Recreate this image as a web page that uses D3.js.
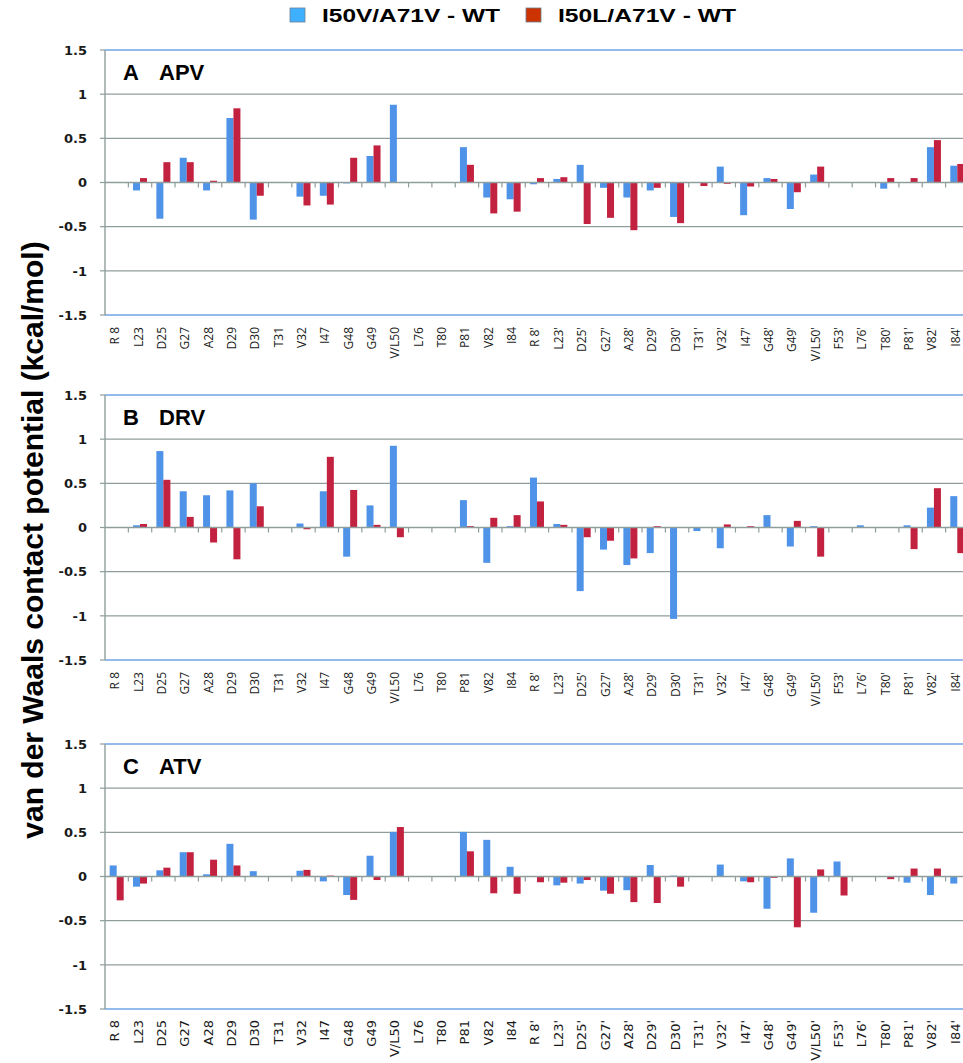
<!DOCTYPE html>
<html>
<head>
<meta charset="utf-8">
<script src="https://cdn.jsdelivr.net/npm/d3@7"></script>
<style>
  body { margin: 0; background: #fff; }
  svg { display: block; }
</style>
</head>
<body>
<div id="chart"></div>
<script>
// Residues along the x axis (same for all three panels)
const residues = ["R 8", "L23", "D25", "G27", "A28", "D29", "D30", "T31", "V32", "I47", "G48", "G49", "V/L50", "L76", "T80", "P81", "V82", "I84",
  "R 8'", "L23'", "D25'", "G27'", "A28'", "D29'", "D30'", "T31'", "V32'", "I47'", "G48'", "G49'", "V/L50'", "F53'", "L76'", "T80'", "P81'", "V82'", "I84'"];

const seriesNames = ["I50V/A71V - WT", "I50L/A71V - WT"];

// A  APV
const apvV = [0, -0.09, -0.41, 0.28, -0.09, 0.73, -0.42, 0, -0.16, -0.15, -0.01, 0.30, 0.88, 0, 0, 0.40, -0.17, -0.19,
  -0.02, 0.04, 0.20, -0.06, -0.17, -0.09, -0.39, 0, 0.18, -0.37, 0.05, -0.30, 0.09, 0, 0, -0.07, 0, 0.40, 0.19];
const apvL = [0, 0.05, 0.23, 0.23, 0.02, 0.84, -0.15, 0, -0.26, -0.25, 0.28, 0.42, 0, 0, 0, 0.20, -0.35, -0.33,
  0.05, 0.06, -0.47, -0.40, -0.54, -0.06, -0.46, -0.04, -0.015, -0.045, 0.04, -0.11, 0.18, 0, 0, 0.05, 0.05, 0.48, 0.21];

// B  DRV
const drvV = [0, 0.025, 0.865, 0.41, 0.365, 0.42, 0.50, 0, 0.045, 0.41, -0.33, 0.25, 0.925, 0, 0, 0.31, -0.40, 0.015,
  0.565, 0.04, -0.72, -0.25, -0.425, -0.29, -1.035, -0.04, -0.235, 0, 0.14, -0.215, 0.015, 0, 0.025, 0, 0.025, 0.225, 0.355];
const drvL = [0, 0.04, 0.54, 0.12, -0.17, -0.36, 0.24, 0, -0.02, 0.80, 0.425, 0.03, -0.11, 0, 0, 0.015, 0.11, 0.14,
  0.295, 0.03, -0.11, -0.15, -0.35, 0.015, 0, 0, 0.035, 0.015, 0, 0.075, -0.33, 0, 0, 0, -0.245, 0.445, -0.29];

// C  ATV
const atvV = [0.125, -0.115, 0.07, 0.275, 0.025, 0.37, 0.06, 0, 0.065, -0.055, -0.21, 0.235, 0.505, 0, 0, 0.505, 0.415, 0.11,
  0, -0.10, -0.08, -0.16, -0.155, 0.13, 0.01, 0, 0.135, -0.055, -0.365, 0.205, -0.41, 0.17, 0, 0, -0.07, -0.21, -0.08];
const atvL = [-0.27, -0.08, 0.10, 0.275, 0.19, 0.125, 0, 0, 0.075, 0.01, -0.265, -0.04, 0.56, 0, 0, 0.285, -0.19, -0.195,
  -0.065, -0.07, -0.04, -0.195, -0.29, -0.30, -0.115, 0, 0, -0.065, -0.015, -0.575, 0.08, -0.215, 0, -0.03, 0.09, 0.09, 0];

const yTicks = [-1.5, -1, -0.5, 0, 0.5, 1, 1.5];

const panels = [
  { letter: "A", drug: "APV", v: apvV, l: apvL, top: 50 },
  { letter: "B", drug: "DRV", v: drvV, l: drvL, top: 395 },
  { letter: "C", drug: "ATV", v: atvV, l: atvL, top: 744 }
];

const width = 963, height = 1063;
const plotLeft = 105, step = 23.35;
const plotRight = plotLeft + step * residues.length; // runs a little past the window edge
const panelH = 265;
const colors = ["#4f93e8", "#c2223f"];

const svg = d3.select("#chart").append("svg")
  .attr("width", width)
  .attr("height", height)
  .style("background", "#fff");

const x0 = d3.scaleBand()
  .domain(residues)
  .range([plotLeft, plotRight])
  .paddingInner(0.4)
  .paddingOuter(0.2);

const x1 = d3.scaleBand()
  .domain(["v", "l"])
  .range([0, x0.bandwidth()]);

panels.forEach((p, pi) => {
  const y = d3.scaleLinear().domain([-1.5, 1.5]).range([p.top + panelH, p.top]);
  const g = svg.append("g");

  // horizontal gridlines
  g.selectAll(".grid")
    .data(yTicks.filter(t => t !== 0 && Math.abs(t) !== 1.5))
    .enter().append("line")
    .attr("x1", plotLeft).attr("x2", plotRight)
    .attr("y1", d => y(d)).attr("y2", d => y(d))
    .attr("stroke", "#8f9e9c")
    .attr("stroke-width", 1.4);

  // top and bottom border of the plot area
  [1.5, -1.5].forEach(t => {
    g.append("line")
      .attr("x1", plotLeft).attr("x2", plotRight)
      .attr("y1", y(t)).attr("y2", y(t))
      .attr("stroke", "#6fa6e6")
      .attr("stroke-width", 1.6);
  });

  // bars
  const rows = residues.map((r, i) => ({ r, v: p.v[i], l: p.l[i] }));
  const grp = g.selectAll(".res")
    .data(rows)
    .enter().append("g")
    .attr("transform", d => `translate(${x0(d.r)},0)`);

  grp.selectAll("rect")
    .data(d => [{ k: "v", val: d.v }, { k: "l", val: d.l }])
    .enter().append("rect")
    .attr("x", d => x1(d.k))
    .attr("width", x1.bandwidth())
    .attr("y", d => y(Math.max(0, d.val)))
    .attr("height", d => Math.abs(y(d.val) - y(0)))
    .attr("fill", d => d.k === "v" ? colors[0] : colors[1]);

  // zero line with category ticks
  g.append("line")
    .attr("x1", plotLeft).attr("x2", plotRight)
    .attr("y1", y(0)).attr("y2", y(0))
    .attr("stroke", "#8f9e9c")
    .attr("stroke-width", 1.4);

  g.selectAll(".ctick")
    .data(residues.slice(1))
    .enter().append("line")
    .attr("x1", d => x0(d) - step * 0.2)
    .attr("x2", d => x0(d) - step * 0.2)
    .attr("y1", y(0)).attr("y2", y(0) + 5)
    .attr("stroke", "#8f9e9c")
    .attr("stroke-width", 1.2);

  // left axis
  g.append("line")
    .attr("x1", plotLeft).attr("x2", plotLeft)
    .attr("y1", y(1.5)).attr("y2", y(-1.5))
    .attr("stroke", "#8f9e9c")
    .attr("stroke-width", 1.4);

  g.selectAll(".ytick")
    .data(yTicks)
    .enter().append("line")
    .attr("x1", plotLeft - 5).attr("x2", plotLeft)
    .attr("y1", d => y(d)).attr("y2", d => y(d))
    .attr("stroke", "#8f9e9c")
    .attr("stroke-width", 1.2);

  g.selectAll(".ylab")
    .data(yTicks)
    .enter().append("text")
    .attr("x", 87)
    .attr("y", d => y(d))
    .attr("dy", "0.36em")
    .attr("text-anchor", "end")
    .attr("font-family", "DejaVu Sans, sans-serif")
    .attr("font-weight", "bold")
    .attr("font-size", "13px")
    .attr("fill", "#1a1a1a")
    .text(d => d);

  // x category labels, rotated
  const isLast = pi === panels.length - 1;
  g.selectAll(".xlab")
    .data(residues)
    .enter().append("text")
    .attr("transform", d => `translate(${x0(d) + x0.bandwidth() / 2 + 2.5},${p.top + panelH + (isLast ? 11 : 12)}) rotate(-90)`)
    .attr("text-anchor", "end")
    .attr("font-family", isLast ? "DejaVu Sans, sans-serif" : "Open Sans, sans-serif")
    .attr("font-size", isLast ? "13px" : "12px")
    .attr("fill", "#1a1a1a")
    .text(d => d);

  // panel label
  g.append("text")
    .attr("x", 123).attr("y", p.top + 30)
    .attr("font-family", "Liberation Sans, Arial, sans-serif")
    .attr("font-weight", "bold")
    .attr("font-size", "22px")
    .attr("fill", "#000")
    .text(p.letter);
  g.append("text")
    .attr("x", 159).attr("y", p.top + 30)
    .attr("font-family", "Liberation Sans, Arial, sans-serif")
    .attr("font-weight", "bold")
    .attr("font-size", "22px")
    .attr("fill", "#000")
    .text(p.drug);
});

// y axis title
svg.append("text")
  .attr("transform", "translate(43,540) rotate(-90)")
  .attr("text-anchor", "middle")
  .attr("font-family", "Liberation Sans, Arial, sans-serif")
  .attr("font-weight", "bold")
  .attr("font-size", "30px")
  .attr("fill", "#000")
  .text("van der Waals contact potential (kcal/mol)");

// legend
const legendFill = ["#3fb0ff", "#cc3300"];
const legendX = [290, 526];
seriesNames.forEach((name, i) => {
  const lg = svg.append("g").attr("transform", `translate(${legendX[i]},8)`);
  lg.append("rect")
    .attr("width", 15).attr("height", 14)
    .attr("fill", legendFill[i])
    .attr("stroke", "#6c7f91")
    .attr("stroke-width", 0.8);
  lg.append("text")
    .attr("x", 32).attr("y", 13.5)
    .attr("font-family", "Liberation Sans, Arial, sans-serif")
    .attr("font-weight", "bold")
    .attr("font-size", "19px")
    .attr("textLength", 178)
    .attr("lengthAdjust", "spacingAndGlyphs")
    .attr("fill", "#000")
    .text(name);
});
</script>
</body>
</html>
